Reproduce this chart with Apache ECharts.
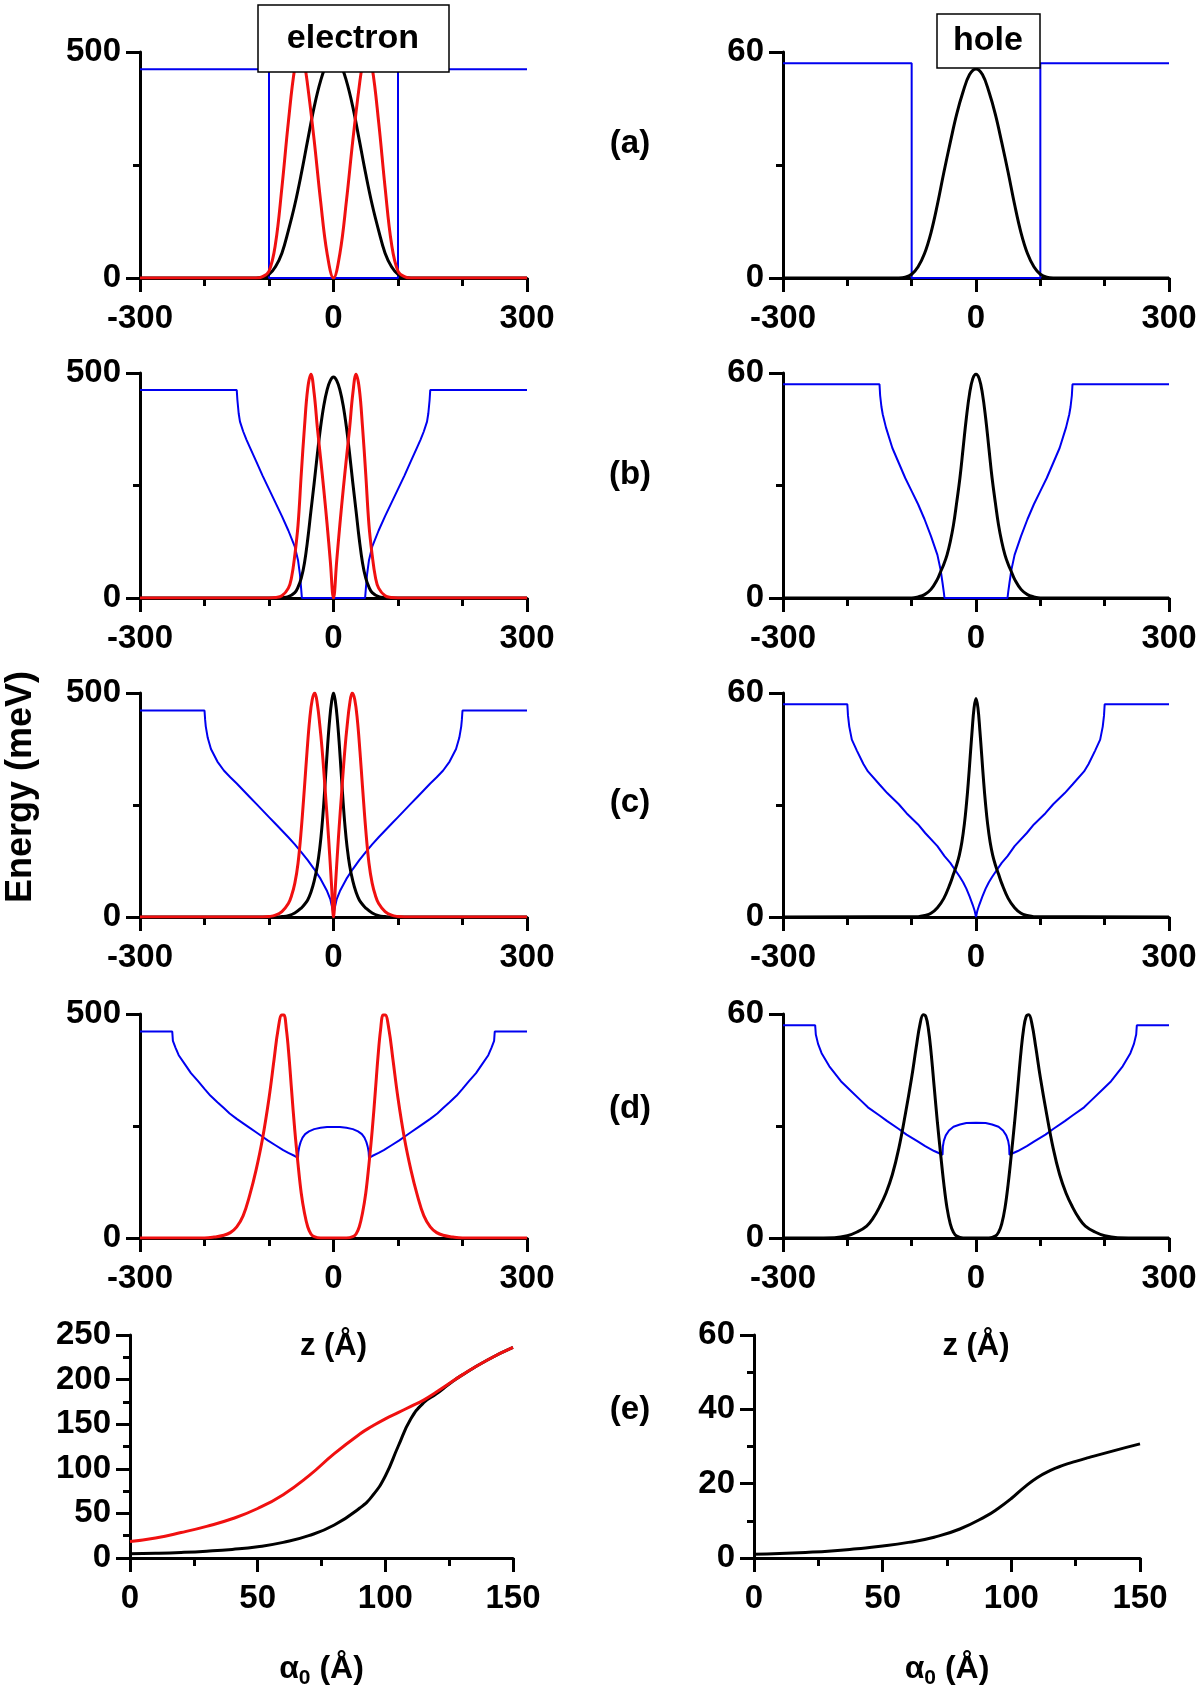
<!DOCTYPE html>
<html><head><meta charset="utf-8">
<script src="https://cdn.jsdelivr.net/npm/echarts@6/dist/echarts.min.js"></script>
<style>html,body{margin:0;padding:0;background:#fff}#c{width:1200px;height:1693px}</style>
</head><body><div id="c"></div>
<script>
// ---------- DATA (z in Å, energy / |psi|^2 in meV scale) ----------
// panel (a)
const elecPotA = [[-300,462],[-100,462],[-100,0],[100,0],[100,462],[300,462]];
const elecGroundA = [[-300,0],[-120,0],[-110,1],[-100,8],[-90,25],[-80,55],[-70,105],[-60,162],[-50,230],[-40,305],[-30,378],[-20,436],[-10,475],[0,490],[10,475],[20,436],[30,378],[40,305],[50,230],[60,162],[70,105],[80,55],[90,25],[100,8],[110,1],[120,0],[300,0]];
const elecExcA = [[-300,0],[-120,0],[-110,3],[-100,15],[-90,75],[-80,200],[-70,345],[-60,465],[-53,500],[-45,470],[-40,425],[-30,305],[-20,170],[-10,55],[0,0],[10,55],[20,170],[30,305],[40,425],[45,470],[53,500],[60,465],[70,345],[80,200],[90,75],[100,15],[110,3],[120,0],[300,0]];
const holePotA = [[-300,57],[-100,57],[-100,0],[100,0],[100,57],[300,57]];
const holeGroundA = [[-300,0],[-120,0],[-110,0.2],[-100,1],[-90,3],[-80,6.5],[-70,12],[-60,19.5],[-50,28],[-40,36],[-30,43.5],[-20,49.5],[-10,54],[0,55.5],[10,54],[20,49.5],[30,43.5],[40,36],[50,28],[60,19.5],[70,12],[80,6.5],[90,3],[100,1],[110,0.2],[120,0],[300,0]];
// panel (b)
const elecPotB = [[-300,462],[-150,462],[-149,440],[-147,410],[-145,392],[-140,370],[-135,352],[-130,336],[-120,304],[-110,272],[-100,242],[-90,212],[-80,182],[-70,150],[-60,114],[-55,84],[-52,52],[-50,18],[-49,0],[49,0],[50,18],[52,52],[55,84],[60,114],[70,150],[80,182],[90,212],[100,242],[110,272],[120,304],[130,336],[135,352],[140,370],[145,392],[147,410],[149,440],[150,462],[300,462]];
const elecGroundB = [[-300,0],[-90,0],[-80,1],[-70,3],[-60,12],[-55,24],[-50,44],[-45,78],[-40,130],[-35,193],[-30,255],[-25,320],[-20,380],[-15,428],[-10,462],[-5,483],[0,491],[5,483],[10,462],[15,428],[20,380],[25,320],[30,255],[35,193],[40,130],[45,78],[50,44],[55,24],[60,12],[70,3],[80,1],[90,0],[300,0]];
const elecExcB = [[-300,0],[-100,0],[-90,1],[-80,5],[-70,22],[-65,46],[-60,95],[-55,162],[-50,275],[-45,380],[-40,465],[-35,497],[-30,455],[-25,378],[-20,310],[-15,240],[-10,165],[-5,83],[0,0],[5,83],[10,165],[15,240],[20,310],[25,378],[30,455],[35,497],[40,465],[45,380],[50,275],[55,162],[60,95],[65,46],[70,22],[80,5],[90,1],[100,0],[300,0]];
const holePotB = [[-300,57],[-150,57],[-149,54],[-147,51],[-145,49],[-140,45.5],[-130,40],[-120,36],[-110,32],[-100,28.5],[-90,25],[-80,21],[-70,16.5],[-60,11.5],[-55,7.5],[-52,4],[-50,1.5],[-49,0],[49,0],[50,1.5],[52,4],[55,7.5],[60,11.5],[70,16.5],[80,21],[90,25],[100,28.5],[110,32],[120,36],[130,40],[140,45.5],[145,49],[147,51],[149,54],[150,57],[300,57]];
const holeGroundB = [[-300,0],[-100,0],[-90,0.3],[-80,0.9],[-70,2.3],[-60,5],[-55,7],[-50,9],[-45,11.5],[-40,15],[-35,19.5],[-30,25.5],[-25,32],[-20,40],[-15,48],[-10,54.5],[-5,58.5],[0,59.7],[5,58.5],[10,54.5],[15,48],[20,40],[25,32],[30,25.5],[35,19.5],[40,15],[45,11.5],[50,9],[55,7],[60,5],[70,2.3],[80,0.9],[90,0.3],[100,0],[300,0]];
// panel (c)
const elecPotC = [[-300,461],[-200,461],[-199,440],[-198,425],[-195,400],[-190,375],[-180,347],[-170,327],[-160,312],[-150,298],[-140,283],[-130,268],[-120,253],[-110,238],[-100,223],[-90,208],[-80,193],[-70,178],[-60,162],[-50,145],[-40,127],[-30,107],[-20,85],[-10,58],[-5,40],[0,8],[5,40],[10,58],[20,85],[30,107],[40,127],[50,145],[60,162],[70,178],[80,193],[90,208],[100,223],[110,238],[120,253],[130,268],[140,283],[150,298],[160,312],[170,327],[180,347],[190,375],[195,400],[198,425],[199,440],[200,461],[300,461]];
const elecGroundC = [[-300,0],[-90,0],[-80,1],[-70,3],[-60,9],[-50,20],[-45,28],[-40,38],[-35,55],[-30,80],[-25,115],[-21,157],[-18,200],[-15,255],[-12,320],[-9,385],[-6,440],[-3,480],[0,500],[3,480],[6,440],[9,385],[12,320],[15,255],[18,200],[21,157],[25,115],[30,80],[35,55],[40,38],[45,28],[50,20],[60,9],[70,3],[80,1],[90,0],[300,0]];
const elecExcC = [[-300,0],[-110,0],[-100,1],[-90,4],[-80,12],[-70,30],[-65,48],[-60,75],[-55,120],[-50,195],[-45,290],[-41,370],[-37,440],[-33,485],[-29,500],[-25,475],[-21,425],[-18,380],[-15,325],[-12,265],[-9,205],[-6,140],[-3,70],[0,0],[3,70],[6,140],[9,205],[12,265],[15,325],[18,380],[21,425],[25,475],[29,500],[33,485],[37,440],[41,370],[45,290],[50,195],[55,120],[60,75],[65,48],[70,30],[80,12],[90,4],[100,1],[110,0],[300,0]];
const holePotC = [[-300,57],[-200,57],[-199,54],[-197,51],[-193,47.5],[-185,44.5],[-175,41],[-168,39],[-150,35.5],[-138,33.2],[-120,30.2],[-108,27.8],[-90,24.8],[-79,22.5],[-60,19],[-49,16.3],[-40,14.5],[-30,12],[-25,10.7],[-20,9.3],[-15,7.6],[-10,5.5],[-5,3.2],[-2,1.6],[0,0],[2,1.6],[5,3.2],[10,5.5],[15,7.6],[20,9.3],[25,10.7],[30,12],[40,14.5],[49,16.3],[60,19],[79,22.5],[90,24.8],[108,27.8],[120,30.2],[138,33.2],[150,35.5],[168,39],[175,41],[185,44.5],[193,47.5],[197,51],[199,54],[200,57],[300,57]];
const holeGroundC = [[-300,0],[-90,0.1],[-80,0.4],[-70,1],[-60,2.5],[-50,5],[-40,9],[-35,11.5],[-30,14],[-26,16.5],[-22,20],[-18,25],[-15,30],[-12,36],[-9,43],[-6,50],[-3,56],[0,58.5],[3,56],[6,50],[9,43],[12,36],[15,30],[18,25],[22,20],[26,16.5],[30,14],[35,11.5],[40,9],[50,5],[60,2.5],[70,1],[80,0.4],[90,0.1],[300,0]];
// panel (d)
const elecPotD = [[-300,461],[-250,461],[-249,440],[-245,425],[-240,408],[-230,387],[-221,368],[-210,350],[-200,333],[-191,318],[-180,303],[-170,290],[-161,278],[-150,266],[-140,256],[-131,247],[-120,236],[-110,226],[-102,218],[-90,207],[-78,196],[-70,190],[-60,183],[-55,179],[-54.5,192],[-53,204],[-51,214],[-48,224],[-44,232],[-38,238],[-30,243],[-20,246],[-10,248],[0,248],[10,248],[20,246],[30,243],[38,238],[44,232],[48,224],[51,214],[53,204],[54.5,192],[55,179],[60,183],[70,190],[78,196],[90,207],[102,218],[110,226],[120,236],[131,247],[140,256],[150,266],[161,278],[170,290],[180,303],[191,318],[200,333],[210,350],[221,368],[230,387],[240,408],[245,425],[249,440],[250,461],[300,461]];
const elecExcD = [[-300,0],[-200,0],[-185,2],[-170,6],[-160,12],[-150,25],[-140,50],[-130,95],[-120,152],[-110,222],[-100,312],[-92,400],[-86,465],[-80,498],[-77,498],[-73,465],[-69,405],[-65,330],[-60,240],[-55,165],[-50,100],[-45,56],[-40,25],[-35,9],[-30,3],[-20,0],[20,0],[30,3],[35,9],[40,25],[45,56],[50,100],[55,165],[60,240],[65,330],[69,405],[73,465],[77,498],[80,498],[86,465],[92,400],[100,312],[110,222],[120,152],[130,95],[140,50],[150,25],[160,12],[170,6],[185,2],[200,0],[300,0]];
const holePotD = [[-300,57],[-250,57],[-249,54.5],[-245.5,52],[-240,49.5],[-228,46],[-210,42],[-198,40],[-180,37],[-168,35],[-150,32.8],[-138,31.3],[-120,29.2],[-108,27.7],[-90,25.8],[-79,24.6],[-65,23.3],[-52,22.3],[-51.5,24.5],[-50,26],[-47,27.5],[-42,28.8],[-35,29.8],[-25,30.4],[-15,30.8],[0,30.9],[15,30.8],[25,30.4],[35,29.8],[42,28.8],[47,27.5],[50,26],[51.5,24.5],[52,22.3],[65,23.3],[79,24.6],[90,25.8],[108,27.7],[120,29.2],[138,31.3],[150,32.8],[168,35],[180,37],[198,40],[210,42],[228,46],[240,49.5],[245.5,52],[249,54.5],[250,57],[300,57]];
const holeGroundD = [[-300,0],[-220,0.1],[-200,0.6],[-185,1.6],[-170,3.2],[-160,5.3],[-150,8.3],[-140,12],[-130,17],[-120,24],[-110,33],[-100,43],[-93,51],[-87,57.3],[-82,59.8],[-78,59.3],[-74,56],[-70,50],[-65,40.5],[-60,31],[-55,22.5],[-50,14.5],[-45,8],[-40,3.8],[-35,1.5],[-30,0.5],[-20,0],[20,0],[30,0.5],[35,1.5],[40,3.8],[45,8],[50,14.5],[55,22.5],[60,31],[65,40.5],[70,50],[74,56],[78,59.3],[82,59.8],[87,57.3],[93,51],[100,43],[110,33],[120,24],[130,17],[140,12],[150,8.3],[160,5.3],[170,3.2],[185,1.6],[200,0.6],[220,0.1],[300,0]];
// panel (e): energies vs alpha0
const alpha0 = [0,10,20,30,40,50,60,70,80,90,95,100,105,110,115,120,125,130,140,150];
const elecExcE = [18.5,22.5,28.5,35.5,44,55.5,71,92,117,139,148,156,163,170,177,186,195.5,205,222,236];
const elecGroundE = [4.8,5.3,6.2,7.6,9.6,12.6,17.5,25,37,56,70,92,125,156,174,184,195,205,222,236];
const holeGroundE = [1.0,1.2,1.5,1.9,2.5,3.2,4.2,5.6,7.8,11.2,13.4,16.0,19.0,21.6,23.5,24.9,26.0,27.0,28.9,30.7];
// tick / label texts
const panelLabels = ['(a)','(b)','(c)','(d)','(e)'];
const xNameZ = 'z (Å)';

// ---------- STYLE / LAYOUT ----------
const TXT_FONT = 'Liberation Sans';
const BLUE = '#0000f0', RED = '#f01010', BLACK = '#000000';
const zipE = (vals) => alpha0.map((a, i) => [a, vals[i]]);

const LX = 140, LW = 387, RX = 783, RW = 386;
const rows = [{top:52,h:226},{top:373,h:225},{top:693,h:224},{top:1014,h:224}];
const panels = [];
const WF = 0.4, EN = 0.5;
const elecSets = [
  [[elecPotA,BLUE,2,false],[elecGroundA,BLACK,3,WF],[elecExcA,RED,3,WF]],
  [[elecPotB,BLUE,2,false],[elecGroundB,BLACK,3,WF],[elecExcB,RED,3,WF]],
  [[elecPotC,BLUE,2,false],[elecGroundC,BLACK,3,WF],[elecExcC,RED,3,WF]],
  [[elecPotD,BLUE,2,false],[elecExcD,RED,3,WF]]
];
const holeSets = [
  [[holePotA,BLUE,2,false],[holeGroundA,BLACK,3,WF]],
  [[holePotB,BLUE,2,false],[holeGroundB,BLACK,3,WF]],
  [[holePotC,BLUE,2,false],[holeGroundC,BLACK,3,WF]],
  [[holePotD,BLUE,2,false],[holeGroundD,BLACK,3,WF]]
];
rows.forEach((r, i) => {
  panels.push({grid:{left:LX,top:r.top,width:LW,height:r.h}, x:[-300,300,300,3], y:[0,500,500,2], series:elecSets[i], xname: i===3 ? xNameZ : ''});
  panels.push({grid:{left:RX,top:r.top,width:RW,height:r.h}, x:[-300,300,300,3], y:[0,60,60,2], series:holeSets[i], xname: i===3 ? xNameZ : ''});
});
panels.push({grid:{left:130,top:1335,width:383,height:223}, x:[0,150,50,2], y:[0,250,50,2],
  series:[[zipE(elecGroundE),BLACK,3,EN],[zipE(elecExcE),RED,3,EN]], xname:'alpha'});
panels.push({grid:{left:754,top:1335,width:386,height:223}, x:[0,150,50,2], y:[0,60,20,2],
  series:[[zipE(holeGroundE),BLACK,3,EN]], xname:'alpha'});

const axisLine = {show:true, onZero:false, lineStyle:{color:'#000', width:3}};
const labelStyle = {fontFamily:TXT_FONT, fontWeight:'bold', fontSize:33, color:'#000'};
const alphaRich = {
  a:{fontFamily:TXT_FONT, fontWeight:'bold', fontSize:32, color:'#000'},
  s:{fontFamily:TXT_FONT, fontWeight:'bold', fontSize:21, color:'#000', padding:[18,0,0,0]}
};

const option = {animation:false, backgroundColor:'#fff', grid:[], xAxis:[], yAxis:[], series:[], graphic:[]};
panels.forEach((p, i) => {
  option.grid.push(Object.assign({containLabel:false}, p.grid));
  const xa = {type:'value', gridIndex:i, min:p.x[0], max:p.x[1], interval:p.x[2],
    axisLine:axisLine, splitLine:{show:false},
    axisTick:{show:true, length:14, lineStyle:{color:'#000', width:3}},
    minorTick:{show:true, splitNumber:p.x[3], length:8, lineStyle:{color:'#000', width:3}},
    minorSplitLine:{show:false},
    axisLabel:Object.assign({margin:24}, labelStyle)};
  if (p.xname === 'alpha') {
    xa.name = '{a|α}{s|0}{a| (Å)}';
    xa.nameLocation = 'middle'; xa.nameGap = 92;
    xa.nameTextStyle = {rich:alphaRich};
  } else if (p.xname) {
    xa.name = p.xname; xa.nameLocation = 'middle'; xa.nameGap = 93;
    xa.nameTextStyle = {fontFamily:TXT_FONT, fontWeight:'bold', fontSize:31, color:'#000'};
  }
  option.xAxis.push(xa);
  option.yAxis.push({type:'value', gridIndex:i, min:p.y[0], max:p.y[1], interval:p.y[2],
    axisLine:axisLine, splitLine:{show:false},
    axisTick:{show:true, length:14, lineStyle:{color:'#000', width:3}},
    minorTick:{show:true, splitNumber:p.y[3], length:7, lineStyle:{color:'#000', width:3}},
    minorSplitLine:{show:false},
    axisLabel:Object.assign({margin:19}, labelStyle)});
  p.series.forEach((s, k) => {
    option.series.push({type:'line', xAxisIndex:i, yAxisIndex:i, data:s[0], symbol:'none', showSymbol:false,
      smooth: s[3] ? s[3] : false,
      lineStyle:{color:s[1], width:s[2]}, itemStyle:{color:s[1]}, z:2+k, silent:true, clip:true});
  });
});

// panel labels
const labelY = [144, 475, 803, 1109, 1410];
panelLabels.forEach((t, i) => {
  option.graphic.push({type:'text', x:630, y:labelY[i], z:50,
    style:{text:t, fontFamily:TXT_FONT, fontWeight:'bold', fontSize:33, fill:'#000', align:'center', verticalAlign:'middle'}});
});
// y axis title
option.graphic.push({type:'text', x:21, y:787, rotation:Math.PI/2, z:50,
  style:{text:'Energy (meV)', fontFamily:TXT_FONT, fontWeight:'bold', fontSize:36, fill:'#000', align:'center', verticalAlign:'middle'}});
// column title boxes
option.graphic.push({type:'rect', z:100, shape:{x:258, y:5, width:191, height:67}, style:{fill:'#fff', stroke:'#000', lineWidth:1.5}});
option.graphic.push({type:'text', z:101, x:353, y:39,
  style:{text:'electron', fontFamily:TXT_FONT, fontWeight:'bold', fontSize:34, fill:'#000', align:'center', verticalAlign:'middle'}});
option.graphic.push({type:'rect', z:100, shape:{x:937, y:14, width:103, height:54}, style:{fill:'#fff', stroke:'#000', lineWidth:1.5}});
option.graphic.push({type:'text', z:101, x:988, y:41,
  style:{text:'hole', fontFamily:TXT_FONT, fontWeight:'bold', fontSize:34, fill:'#000', align:'center', verticalAlign:'middle'}});

const chart = echarts.init(document.getElementById('c'), null, {renderer:'canvas', width:1200, height:1693});
chart.setOption(option);
</script>
</body></html>
